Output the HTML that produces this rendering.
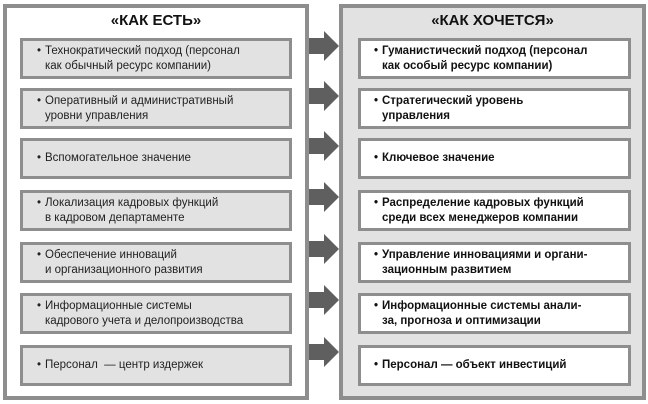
<!DOCTYPE html>
<html><head><meta charset="utf-8"><style>
body{margin:0;width:648px;height:404px;background:#fff;position:relative;overflow:hidden;font-family:"Liberation Sans Narrow","Liberation Sans",sans-serif;}
.o{position:absolute;box-sizing:border-box;border:4px solid #8e8e8e;}
.b{position:absolute;box-sizing:border-box;border:3px solid #8e8e8e;height:41px;font-size:11.5px;line-height:15px;color:#222;padding:3px 0 0 0;}
.l{left:20px;width:272px;background:#e2e2e2;}
.r{left:358px;width:273px;background:#fff;font-weight:bold;color:#111;}
.b span{position:absolute;}
.t{position:absolute;font-weight:bold;font-size:15px;text-align:center;color:#111;}
.a{position:absolute;left:309px;width:30px;height:30px;}
</style></head><body>
<div class="o" style="left:3px;top:4px;width:306px;height:396px;background:#fff"></div>
<div class="o" style="left:339px;top:4px;width:307px;height:396px;background:#e2e2e2"></div>
<div class="t" style="left:3px;width:306px;top:12px">«КАК ЕСТЬ»</div>
<div class="t" style="left:339px;width:307px;top:12px">«КАК ХОЧЕТСЯ»</div>

<div class="b l" style="top:38px"><span style="left:14px;top:3px">•</span><span style="left:22px;top:3px">Технократический подход (персонал<br>как обычный ресурс компании)</span></div>
<div class="b l" style="top:88px"><span style="left:14px;top:3px">•</span><span style="left:22px;top:3px">Оперативный и административный<br>уровни управления</span></div>
<div class="b l" style="top:138px"><span style="left:14px;top:10px">•</span><span style="left:22px;top:10px">Вспомогательное значение</span></div>
<div class="b l" style="top:190px"><span style="left:14px;top:3px">•</span><span style="left:22px;top:3px">Локализация кадровых функций<br>в кадровом департаменте</span></div>
<div class="b l" style="top:242px"><span style="left:14px;top:3px">•</span><span style="left:22px;top:3px">Обеспечение инноваций<br>и организационного развития</span></div>
<div class="b l" style="top:293px"><span style="left:14px;top:3px">•</span><span style="left:22px;top:3px">Информационные системы<br>кадрового учета и делопроизводства</span></div>
<div class="b l" style="top:345px"><span style="left:14px;top:10px">•</span><span style="left:22px;top:10px">Персонал&nbsp; — центр издержек</span></div>

<div class="b r" style="top:38px"><span style="left:13px;top:3px">•</span><span style="left:21px;top:3px">Гуманистический подход (персонал<br>как особый ресурс компании)</span></div>
<div class="b r" style="top:88px"><span style="left:13px;top:3px">•</span><span style="left:21px;top:3px">Стратегический уровень<br>управления</span></div>
<div class="b r" style="top:138px"><span style="left:13px;top:10px">•</span><span style="left:21px;top:10px">Ключевое значение</span></div>
<div class="b r" style="top:190px"><span style="left:13px;top:3px">•</span><span style="left:21px;top:3px">Распределение кадровых функций<br>среди всех менеджеров компании</span></div>
<div class="b r" style="top:242px"><span style="left:13px;top:3px">•</span><span style="left:21px;top:3px">Управление инновациями и органи-<br>зационным развитием</span></div>
<div class="b r" style="top:293px"><span style="left:13px;top:3px">•</span><span style="left:21px;top:3px">Информационные системы анали-<br>за, прогноза и оптимизации</span></div>
<div class="b r" style="top:345px"><span style="left:13px;top:10px">•</span><span style="left:21px;top:10px">Персонал — объект инвестиций</span></div>

<svg class="a" style="top:31px" viewBox="0 0 30 30"><polygon points="0,7 15,7 15,0 30,15 15,30 15,23 0,23" fill="#5f5f5f"/></svg>
<svg class="a" style="top:81px" viewBox="0 0 30 30"><polygon points="0,7 15,7 15,0 30,15 15,30 15,23 0,23" fill="#5f5f5f"/></svg>
<svg class="a" style="top:131px" viewBox="0 0 30 30"><polygon points="0,7 15,7 15,0 30,15 15,30 15,23 0,23" fill="#5f5f5f"/></svg>
<svg class="a" style="top:182px" viewBox="0 0 30 30"><polygon points="0,7 15,7 15,0 30,15 15,30 15,23 0,23" fill="#5f5f5f"/></svg>
<svg class="a" style="top:234px" viewBox="0 0 30 30"><polygon points="0,7 15,7 15,0 30,15 15,30 15,23 0,23" fill="#5f5f5f"/></svg>
<svg class="a" style="top:285px" viewBox="0 0 30 30"><polygon points="0,7 15,7 15,0 30,15 15,30 15,23 0,23" fill="#5f5f5f"/></svg>
<svg class="a" style="top:337px" viewBox="0 0 30 30"><polygon points="0,7 15,7 15,0 30,15 15,30 15,23 0,23" fill="#5f5f5f"/></svg>
</body></html>
